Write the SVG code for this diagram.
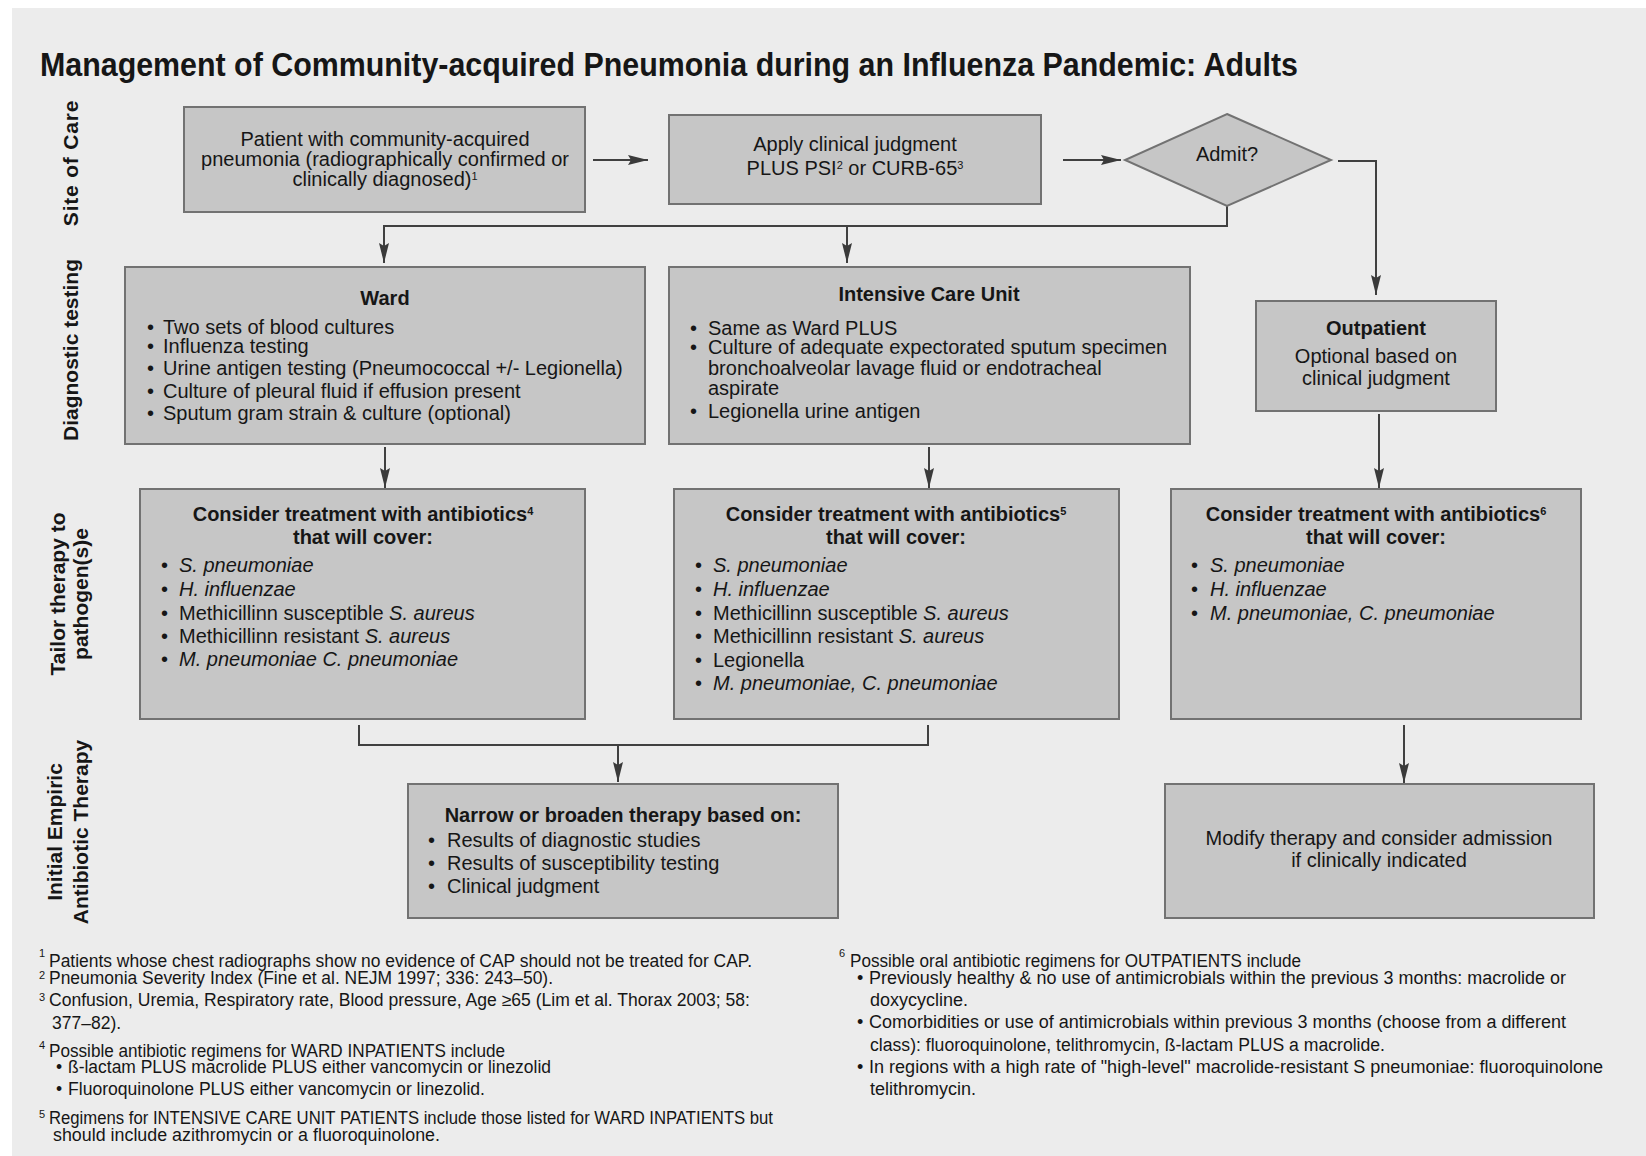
<svg xmlns="http://www.w3.org/2000/svg" width="1646" height="1156" viewBox="0 0 1646 1156">
  <defs>
    <style>
      .box { fill:#c6c6c6; stroke:#727272; stroke-width:2; }
      .t { font-family:"Liberation Sans", Arial, sans-serif; font-size:20px; fill:#161616; }
      .b { font-weight:bold; }
      .c { text-anchor:middle; }
      .i { font-style:italic; }
      .fn { font-size:17.5px; }
      .fr { font-size:18px; }
      .sup { font-size:11px; }
      .ttl { font-size:33px; }
      .lbl { font-family:"Liberation Sans", Arial, sans-serif; font-size:21px; font-weight:bold; text-anchor:middle; fill:#161616; }
      .conn { fill:none; stroke:#404040; stroke-width:2; }
    </style>
    <marker id="arrow" viewBox="0 0 20 10" refX="20" refY="5" markerWidth="20" markerHeight="10" markerUnits="userSpaceOnUse" orient="auto">
      <path d="M0,0 L20,5 L0,10 L3,5 z" fill="#3a3a3a"/>
    </marker>
  </defs>

  <!-- panel -->
  <rect x="0" y="0" width="1646" height="1156" fill="#ffffff"/>
  <rect x="12" y="8" width="1634" height="1148" fill="#ececec"/>

  <!-- title -->
  <text class="t b ttl" x="40" y="76" textLength="1258" lengthAdjust="spacingAndGlyphs">Management of Community-acquired Pneumonia during an Influenza Pandemic: Adults</text>

  <!-- row labels -->
  <g id="row-labels">
    <text class="lbl" transform="translate(78,163) rotate(-90)" letter-spacing="0.8">Site of Care</text>
    <text class="lbl" transform="translate(78,350) rotate(-90)">Diagnostic testing</text>
    <text class="lbl" transform="translate(65,594) rotate(-90)">Tailor therapy to</text>
    <text class="lbl" transform="translate(88,594) rotate(-90)">pathogen(s)e</text>
    <text class="lbl" transform="translate(62,832) rotate(-90)">Initial Empiric</text>
    <text class="lbl" transform="translate(88,832) rotate(-90)">Antibiotic Therapy</text>
  </g>

  <!-- connectors -->
  <g id="connectors">
    <path class="conn" d="M593,160 H648" stroke-width="3" marker-end="url(#arrow)"/>
    <path class="conn" d="M1063,160 H1121" stroke-width="3" marker-end="url(#arrow)"/>
    <path class="conn" d="M1338,161 H1376 V295" marker-end="url(#arrow)"/>
    <path class="conn" d="M1227,206 V226 H384 V263" marker-end="url(#arrow)"/>
    <path class="conn" d="M847,226 V263" marker-end="url(#arrow)"/>
    <path class="conn" d="M385,447 V488" marker-end="url(#arrow)"/>
    <path class="conn" d="M929,447 V488" marker-end="url(#arrow)"/>
    <path class="conn" d="M1379,414 V488" marker-end="url(#arrow)"/>
    <path class="conn" d="M359,725 V745 H928 V725"/>
    <path class="conn" d="M618,745 V782" marker-end="url(#arrow)"/>
    <path class="conn" d="M1404,725 V783" marker-end="url(#arrow)"/>
  </g>

  <!-- site of care -->
  <g id="patient">
    <rect class="box" x="184" y="107" width="401" height="105"/>
    <text class="t c" x="385" y="146">Patient with community-acquired</text>
    <text class="t c" x="385" y="166">pneumonia (radiographically confirmed or</text>
    <text class="t c" x="385" y="186">clinically diagnosed)<tspan class="sup" baseline-shift="super">1</tspan></text>
  </g>

  <g id="judgment">
    <rect class="box" x="669" y="115" width="372" height="89"/>
    <text class="t c" x="855" y="151">Apply clinical judgment</text>
    <text class="t c" x="855" y="175">PLUS PSI<tspan class="sup" baseline-shift="super">2</tspan> or CURB-65<tspan class="sup" baseline-shift="super">3</tspan></text>
  </g>

  <g id="admit">
    <polygon class="box" points="1227,114 1331,160 1227,206 1125,160"/>
    <text class="t c" x="1227" y="161">Admit?</text>
  </g>

  <!-- diagnostic testing -->
  <g id="ward">
    <rect class="box" x="125" y="267" width="520" height="177"/>
    <text class="t b c" x="385" y="305">Ward</text>
    <text class="t" x="147" y="334">•</text><text class="t" x="163" y="334">Two sets of blood cultures</text>
    <text class="t" x="147" y="353">•</text><text class="t" x="163" y="353">Influenza testing</text>
    <text class="t" x="147" y="375">•</text><text class="t" x="163" y="375">Urine antigen testing (Pneumococcal +/- Legionella)</text>
    <text class="t" x="147" y="398">•</text><text class="t" x="163" y="398">Culture of pleural fluid if effusion present</text>
    <text class="t" x="147" y="420">•</text><text class="t" x="163" y="420">Sputum gram strain &amp; culture (optional)</text>
  </g>

  <g id="icu">
    <rect class="box" x="669" y="267" width="521" height="177"/>
    <text class="t b c" x="929" y="301">Intensive Care Unit</text>
    <text class="t" x="690" y="335">•</text><text class="t" x="708" y="335">Same as Ward PLUS</text>
    <text class="t" x="690" y="354">•</text><text class="t" x="708" y="354">Culture of adequate expectorated sputum specimen</text>
    <text class="t" x="708" y="375">bronchoalveolar lavage fluid or endotracheal</text>
    <text class="t" x="708" y="395">aspirate</text>
    <text class="t" x="690" y="418">•</text><text class="t" x="708" y="418">Legionella urine antigen</text>
  </g>

  <g id="outpatient">
    <rect class="box" x="1256" y="301" width="240" height="110"/>
    <text class="t b c" x="1376" y="335">Outpatient</text>
    <text class="t c" x="1376" y="363">Optional based on</text>
    <text class="t c" x="1376" y="385">clinical judgment</text>
  </g>

  <!-- tailored therapy -->
  <g id="ward-antibiotics">
    <rect class="box" x="140" y="489" width="445" height="230"/>
    <text class="t b c" x="363" y="521">Consider treatment with antibiotics<tspan class="sup" baseline-shift="super">4</tspan></text>
    <text class="t b c" x="363" y="544">that will cover:</text>
    <text class="t" x="161" y="572">•</text><text class="t i" x="179" y="572">S. pneumoniae</text>
    <text class="t" x="161" y="596">•</text><text class="t i" x="179" y="596">H. influenzae</text>
    <text class="t" x="161" y="620">•</text><text class="t" x="179" y="620">Methicillinn susceptible <tspan class="i">S. aureus</tspan></text>
    <text class="t" x="161" y="643">•</text><text class="t" x="179" y="643">Methicillinn resistant <tspan class="i">S. aureus</tspan></text>
    <text class="t" x="161" y="666">•</text><text class="t i" x="179" y="666">M. pneumoniae C. pneumoniae</text>
  </g>

  <g id="icu-antibiotics">
    <rect class="box" x="674" y="489" width="445" height="230"/>
    <text class="t b c" x="896" y="521">Consider treatment with antibiotics<tspan class="sup" baseline-shift="super">5</tspan></text>
    <text class="t b c" x="896" y="544">that will cover:</text>
    <text class="t" x="695" y="572">•</text><text class="t i" x="713" y="572">S. pneumoniae</text>
    <text class="t" x="695" y="596">•</text><text class="t i" x="713" y="596">H. influenzae</text>
    <text class="t" x="695" y="620">•</text><text class="t" x="713" y="620">Methicillinn susceptible <tspan class="i">S. aureus</tspan></text>
    <text class="t" x="695" y="643">•</text><text class="t" x="713" y="643">Methicillinn resistant <tspan class="i">S. aureus</tspan></text>
    <text class="t" x="695" y="667">•</text><text class="t" x="713" y="667">Legionella</text>
    <text class="t" x="695" y="690">•</text><text class="t i" x="713" y="690">M. pneumoniae, C. pneumoniae</text>
  </g>

  <g id="outpatient-antibiotics">
    <rect class="box" x="1171" y="489" width="410" height="230"/>
    <text class="t b c" x="1376" y="521">Consider treatment with antibiotics<tspan class="sup" baseline-shift="super">6</tspan></text>
    <text class="t b c" x="1376" y="544">that will cover:</text>
    <text class="t" x="1191" y="572">•</text><text class="t i" x="1210" y="572">S. pneumoniae</text>
    <text class="t" x="1191" y="596">•</text><text class="t i" x="1210" y="596">H. influenzae</text>
    <text class="t" x="1191" y="620">•</text><text class="t i" x="1210" y="620">M. pneumoniae, C. pneumoniae</text>
  </g>

  <!-- initial empiric therapy -->
  <g id="adjust-therapy">
    <rect class="box" x="408" y="784" width="430" height="134"/>
    <text class="t b c" x="623" y="822">Narrow or broaden therapy based on:</text>
    <text class="t" x="428" y="847">•</text><text class="t" x="447" y="847">Results of diagnostic studies</text>
    <text class="t" x="428" y="870">•</text><text class="t" x="447" y="870">Results of susceptibility testing</text>
    <text class="t" x="428" y="893">•</text><text class="t" x="447" y="893">Clinical judgment</text>
  </g>

  <g id="modify-therapy">
    <rect class="box" x="1165" y="784" width="429" height="134"/>
    <text class="t c" x="1379" y="845">Modify therapy and consider admission</text>
    <text class="t c" x="1379" y="867">if clinically indicated</text>
  </g>

  <!-- footnotes -->
  <g id="footnotes">
    <text class="t sup" x="39" y="957">1</text>
    <text class="t fn" x="49" y="967" textLength="703" lengthAdjust="spacingAndGlyphs">Patients whose chest radiographs show no evidence of CAP should not be treated for CAP.</text>
    <text class="t sup" x="39" y="979">2</text>
    <text class="t fn" x="49" y="984" textLength="504" lengthAdjust="spacingAndGlyphs">Pneumonia Severity Index (Fine et al. NEJM 1997; 336: 243–50).</text>
    <text class="t sup" x="39" y="1001">3</text>
    <text class="t fn" x="49" y="1006" textLength="701" lengthAdjust="spacingAndGlyphs">Confusion, Uremia, Respiratory rate, Blood pressure, Age ≥65 (Lim et al. Thorax 2003; 58:</text>
    <text class="t fn" x="52" y="1029">377–82).</text>
    <text class="t sup" x="39" y="1049">4</text>
    <text class="t fn" x="49" y="1057" textLength="456" lengthAdjust="spacingAndGlyphs">Possible antibiotic regimens for WARD INPATIENTS include</text>
    <text class="t fn" x="56" y="1073">•</text><text class="t fn" x="68" y="1073" textLength="483" lengthAdjust="spacingAndGlyphs">ß-lactam PLUS macrolide PLUS either vancomycin or linezolid</text>
    <text class="t fn" x="56" y="1095">•</text><text class="t fn" x="68" y="1095" textLength="417" lengthAdjust="spacingAndGlyphs">Fluoroquinolone PLUS either vancomycin or linezolid.</text>
    <text class="t sup" x="39" y="1118">5</text>
    <text class="t fn" x="49" y="1124" textLength="724" lengthAdjust="spacingAndGlyphs">Regimens for INTENSIVE CARE UNIT PATIENTS include those listed for WARD INPATIENTS but</text>
    <text class="t fn" x="53" y="1141" textLength="387" lengthAdjust="spacingAndGlyphs">should include azithromycin or a fluoroquinolone.</text>

    <text class="t sup" x="839" y="957">6</text>
    <text class="t fr" x="850" y="967" textLength="451" lengthAdjust="spacingAndGlyphs">Possible oral antibiotic regimens for OUTPATIENTS include</text>
    <text class="t fr" x="857" y="984">•</text><text class="t fr" x="869" y="984" textLength="697" lengthAdjust="spacingAndGlyphs">Previously healthy &amp; no use of antimicrobials within the previous 3 months: macrolide or</text>
    <text class="t fr" x="870" y="1006">doxycycline.</text>
    <text class="t fr" x="857" y="1028">•</text><text class="t fr" x="869" y="1028" textLength="697" lengthAdjust="spacingAndGlyphs">Comorbidities or use of antimicrobials within previous 3 months (choose from a different</text>
    <text class="t fr" x="870" y="1051" textLength="515" lengthAdjust="spacingAndGlyphs">class): fluoroquinolone, telithromycin, ß-lactam PLUS a macrolide.</text>
    <text class="t fr" x="857" y="1073">•</text><text class="t fr" x="869" y="1073" textLength="734" lengthAdjust="spacingAndGlyphs">In regions with a high rate of "high-level" macrolide-resistant S pneumoniae: fluoroquinolone</text>
    <text class="t fr" x="870" y="1095">telithromycin.</text>
  </g>
</svg>
